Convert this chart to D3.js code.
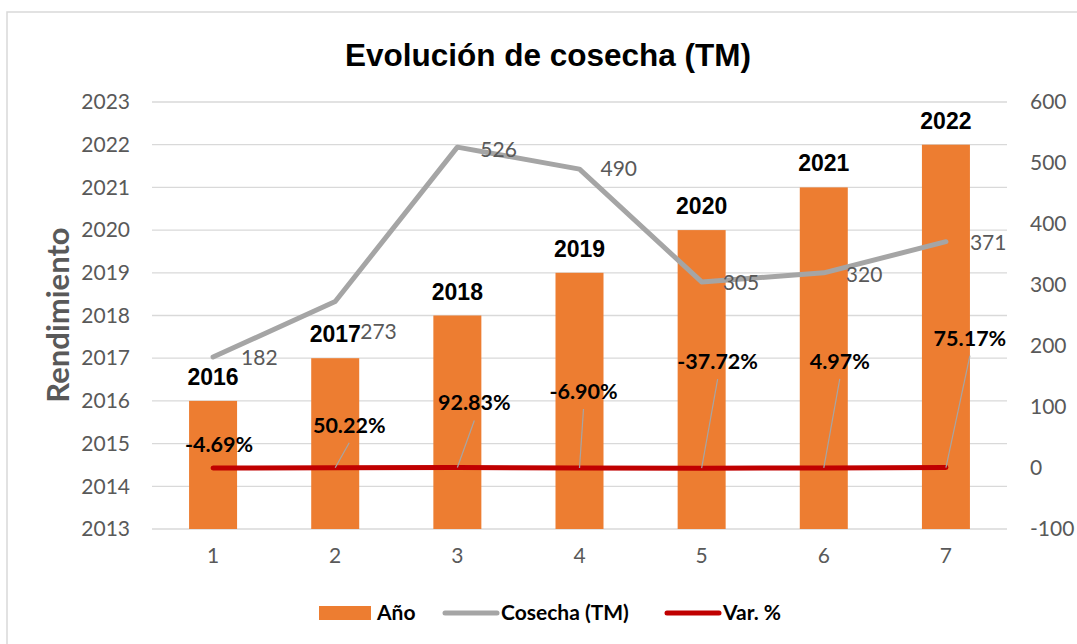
<!DOCTYPE html>
<head>
  <meta charset="utf-8">
  <title>Evolución de cosecha</title>
  <script src="https://d3js.org/d3.v7.min.js"></script>
  <style>
    body { margin: 0; background: #fff; }
    text { font-family: Lato, "Open Sans", sans-serif; }
  </style>
</head>
<body>
<svg width="1077" height="644"></svg>
<script>
  // data
  var categorias = ["1", "2", "3", "4", "5", "6", "7"];
  var anios = [2016, 2017, 2018, 2019, 2020, 2021, 2022];
  var cosecha = [182, 273, 526, 490, 305, 320, 371];
  var variacion = [-4.69, 50.22, 92.83, -6.90, -37.72, 4.97, 75.17];
  var ticksIzq = d3.range(2013, 2024);
  var ticksDer = d3.range(-100, 601, 100);

  // label placement (Excel put these by hand)
  var offCosecha = [[28, 1], [25, 30], [23, 3], [21, 0], [21, 1], [22, 2], [24, 1]];
  var offVar = [[6, -16], [14, -35], [17, -57], [4, -69], [16, -99], [16, -99], [24, -122]];

  var svg = d3.select("svg"),
      width = +svg.attr("width"),
      height = +svg.attr("height");

  var gris = "#595959";
  // plain hyphen for negatives, like Excel
  var guion = function(s) { return String(s).replace("\u2212", "-"); };

  svg.append("rect")
      .attr("x", 7).attr("y", 12)
      .attr("width", 1090).attr("height", 660)
      .attr("fill", "none")
      .attr("stroke", "#d9d9d9")
      .attr("stroke-width", 1.5);

  var x = d3.scaleBand()
      .domain(categorias)
      .range([152, 1007]);

  var yIzq = d3.scaleLinear()
      .domain([2013, 2023])
      .range([529, 102]);

  var yDer = d3.scaleLinear()
      .domain([-100, 600])
      .range([529, 102]);

  // gridlines
  svg.append("g")
    .selectAll("line")
    .data(ticksIzq)
    .enter().append("line")
      .attr("x1", x.range()[0])
      .attr("x2", x.range()[1])
      .attr("y1", function(d) { return yIzq(d); })
      .attr("y2", function(d) { return yIzq(d); })
      .attr("stroke", "#d9d9d9")
      .attr("stroke-width", 1.3);

  // left axis
  var ejeIzq = svg.append("g")
      .attr("transform", "translate(130,0)")
      .call(d3.axisLeft(yIzq).tickValues(ticksIzq).tickFormat(d3.format("d")).tickSize(0).tickPadding(0));
  ejeIzq.select(".domain").remove();
  ejeIzq.selectAll("text")
      .attr("fill", gris)
      .style("font-family", "Lato, sans-serif")
      .style("font-size", "21px");

  // right axis
  var ejeDer = svg.append("g")
      .attr("transform", "translate(1030,0)")
      .call(d3.axisRight(yDer).tickValues(ticksDer).tickFormat(function(d) { return guion(d); }).tickSize(0).tickPadding(0));
  ejeDer.select(".domain").remove();
  ejeDer.selectAll("text")
      .attr("fill", gris)
      .style("font-family", "Lato, sans-serif")
      .style("font-size", "21px");

  // x axis
  var ejeX = svg.append("g")
      .attr("transform", "translate(0,548)")
      .call(d3.axisBottom(x).tickSize(0).tickPadding(0));
  ejeX.select(".domain").remove();
  ejeX.selectAll("text")
      .attr("fill", gris)
      .style("font-family", "Lato, sans-serif")
      .style("font-size", "21px");

  // bars
  var anchoBarra = 48;
  svg.append("g")
    .selectAll("rect")
    .data(anios)
    .enter().append("rect")
      .attr("x", function(d, i) { return x(categorias[i]) + x.bandwidth() / 2 - anchoBarra / 2; })
      .attr("y", function(d) { return yIzq(d); })
      .attr("width", anchoBarra)
      .attr("height", function(d) { return yIzq(2013) - yIzq(d); })
      .attr("fill", "#ed7d31");

  svg.append("g")
    .selectAll("text")
    .data(anios)
    .enter().append("text")
      .attr("x", function(d, i) { return x(categorias[i]) + x.bandwidth() / 2; })
      .attr("y", function(d) { return yIzq(d) - 16; })
      .attr("text-anchor", "middle")
      .style("font-family", "'Liberation Sans', Arial, sans-serif")
      .style("font-weight", "bold")
      .style("font-size", "23px")
      .attr("fill", "#000")
      .text(function(d) { return d; });

  var cx = function(d, i) { return x(categorias[i]) + x.bandwidth() / 2; };

  // cosecha line
  var linea = d3.line()
      .x(cx)
      .y(function(d) { return yDer(d); });

  svg.append("path")
      .datum(cosecha)
      .attr("d", linea)
      .attr("fill", "none")
      .attr("stroke", "#a5a5a5")
      .attr("stroke-width", 5)
      .attr("stroke-linecap", "round")
      .attr("stroke-linejoin", "round");

  svg.append("g")
    .selectAll("text")
    .data(cosecha)
    .enter().append("text")
      .attr("x", function(d, i) { return cx(d, i) + offCosecha[i][0]; })
      .attr("y", function(d, i) { return yDer(d) + offCosecha[i][1]; })
      .attr("dy", "0.35em")
      .attr("fill", gris)
      .style("font-size", "21px")
      .text(function(d) { return d; });

  // var % line (plotted on the right axis, so it sits on zero)
  var lineaVar = d3.line()
      .x(cx)
      .y(function(d) { return yDer(d / 100); });

  svg.append("path")
      .datum(variacion)
      .attr("d", lineaVar)
      .attr("fill", "none")
      .attr("stroke", "#c00000")
      .attr("stroke-width", 5)
      .attr("stroke-linecap", "round");

  var fmt = d3.format(".2f");
  var gVar = svg.append("g");
  gVar.selectAll("line")
    .data(variacion)
    .enter().filter(function(d, i) { return i > 0; })
    .append("line")
      .attr("x1", function(d, i) { return cx(d, i + 1) + offVar[i + 1][0]; })
      .attr("y1", function(d, i) { return yDer(d / 100) + offVar[i + 1][1] + 10; })
      .attr("x2", function(d, i) { return cx(d, i + 1); })
      .attr("y2", function(d) { return yDer(d / 100); })
      .attr("stroke", "#a5a5a5")
      .attr("stroke-width", 1.2);

  gVar.selectAll("text")
    .data(variacion)
    .enter().append("text")
      .attr("x", function(d, i) { return cx(d, i) + offVar[i][0]; })
      .attr("y", function(d, i) { return yDer(d / 100) + offVar[i][1]; })
      .attr("text-anchor", "middle")
      .attr("fill", "#000")
      .style("font-weight", "bold")
      .style("font-size", "21.5px")
      .text(function(d) { return guion(fmt(d)) + "%"; });

  // title
  svg.append("text")
      .attr("x", 548)
      .attr("y", 66)
      .attr("text-anchor", "middle")
      .style("font-family", "'Liberation Sans', Arial, sans-serif")
      .style("font-weight", "bold")
      .style("font-size", "31.5px")
      .attr("fill", "#000")
      .text("Evolución de cosecha (TM)");

  svg.append("text")
      .attr("transform", "translate(69,315) rotate(-90)")
      .attr("text-anchor", "middle")
      .style("font-weight", "bold")
      .style("font-size", "31px")
      .attr("fill", gris)
      .text("Rendimiento");

  // legend
  var leyenda = [
    {nombre: "Año", color: "#ed7d31", tipo: "rect", x: 319},
    {nombre: "Cosecha (TM)", color: "#a5a5a5", tipo: "line", x: 443},
    {nombre: "Var. %", color: "#c00000", tipo: "line", x: 665}
  ];
  var gl = svg.append("g").attr("transform", "translate(0,613)");
  leyenda.forEach(function(d) {
    if (d.tipo == "rect") {
      gl.append("rect").attr("x", d.x).attr("y", -7).attr("width", 52).attr("height", 14).attr("fill", d.color);
    } else {
      gl.append("line").attr("x1", d.x + 2).attr("x2", d.x + 54).attr("y1", 0).attr("y2", 0)
        .attr("stroke", d.color).attr("stroke-width", 5).attr("stroke-linecap", "round");
    }
    gl.append("text")
      .attr("x", d.x + 58)
      .attr("y", 0)
      .attr("dy", "0.35em")
      .style("font-weight", "bold")
      .style("font-size", "21px")
      .attr("fill", "#000")
      .text(d.nombre);
  });
</script>
</body>
